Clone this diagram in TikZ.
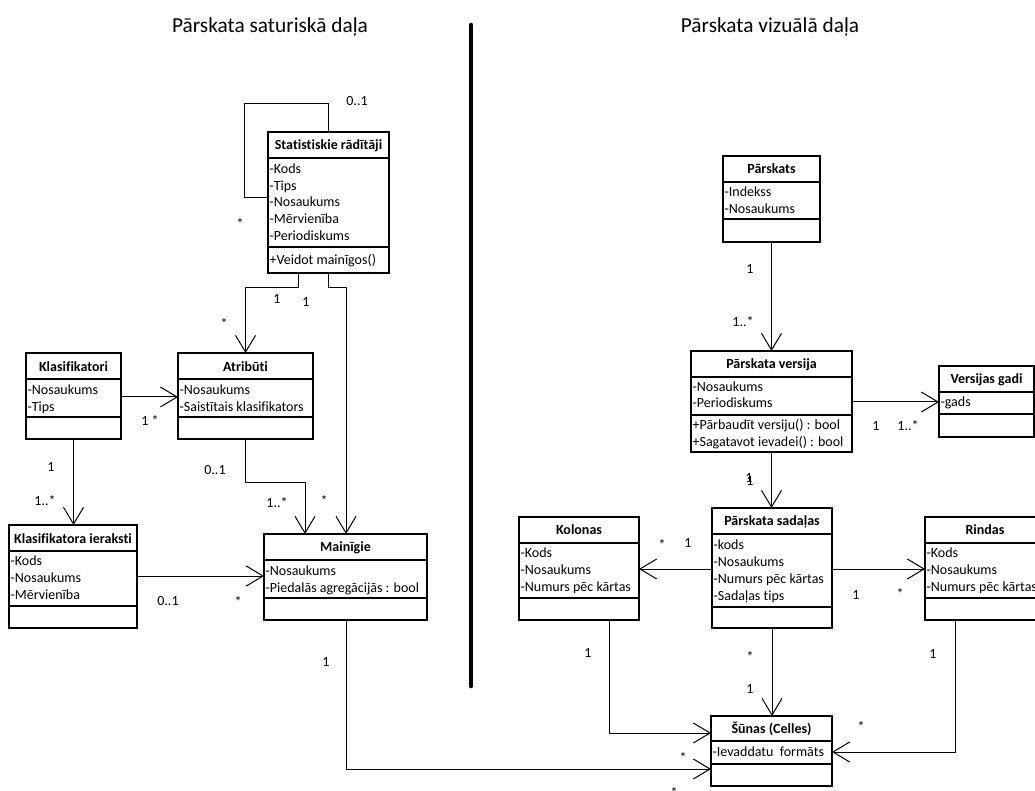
\documentclass[tikz,border=0pt]{standalone}
\usepackage{fontspec}
\setmainfont[Ligatures=CommonOff]{Carlito}
\usetikzlibrary{arrows.meta,calc}

\newcommand\boxfont{\fontsize{10.5pt}{12.5pt}\selectfont}
\newcommand\headfont{\fontsize{16pt}{19pt}\selectfont}

\tikzset{
  frame/.style={draw, line width=0.9pt, inner sep=0pt, outer sep=0pt},
  divider/.style={line width=0.9pt},
  ttl/.style={font=\boxfont\bfseries, inner sep=0pt, text height=8.2pt, text depth=1pt},
  attr/.style={font=\boxfont, anchor=west, inner xsep=1pt, inner ysep=0pt, text height=8.2pt, text depth=1pt},
  mult/.style={font=\boxfont, anchor=base, inner sep=0pt},
  head/.style={font=\headfont, anchor=base, inner sep=0pt},
  link/.style={line width=0.75pt},
  assoc/.style={line width=0.75pt, -{Straight Barb[length=12.5pt,width=15pt,line width=0.75pt]}},
}

% class frame: name, left, top, right, bottom, first divider, second divider, title, title centre
\newcommand\umlframe[9]{%
  \node[frame, anchor=north west,
        minimum width={(#4-#2)*0.75pt}, minimum height={(#5-#3)*0.75pt}] (#1) at (#2,#3) {};
  \draw[divider] (#2,#6) -- (#4,#6) (#2,#7) -- (#4,#7);
  \node[ttl] (#1-title) at ({(#2+#4)/2},#9) {#8};
}

\begin{document}
\begin{tikzpicture}[x=0.75pt, y=-0.75pt]
\useasboundingbox (0,0) rectangle (1035,791);

% section headings and separator
\node[head] (hleft) at (270,33) {Pārskata saturiskā daļa};
\node[head] (hright) at (770,33) {Pārskata vizuālā daļa};
\draw[line width=3.4pt, line cap=round] (471,25) -- (471,686);

% ---------------- content part ----------------
\umlframe{st}{268}{132}{389}{273}{158}{247}{Statistiskie rādītāji}{145}
\node[attr] (st-a1) at (268,169) {-Kods};
\node[attr] (st-a2) at (268,186) {-Tips};
\node[attr] (st-a3) at (268,202) {-Nosaukums};
\node[attr] (st-a4) at (268,219) {-Mērvienība};
\node[attr] (st-a5) at (268,236) {-Periodiskums};
\node[attr] (st-m1) at (268,260) {+Veidot mainīgos()};

\umlframe{atr}{178}{353}{313}{439}{379}{417}{Atribūti}{367}
\node[attr] (atr-a1) at (178,390) {-Nosaukums};
\node[attr] (atr-a2) at (178,407) {-Saistītais klasifikators};

\umlframe{kls}{26}{353}{121}{439}{379}{417}{Klasifikatori}{367}
\node[attr] (kls-a1) at (26,390) {-Nosaukums};
\node[attr] (kls-a2) at (26,407) {-Tips};

\umlframe{kie}{9}{525}{137}{628}{551}{606}{Klasifikatora ieraksti}{539}
\node[attr] (kie-a1) at (9,561) {-Kods};
\node[attr] (kie-a2) at (9,578) {-Nosaukums};
\node[attr] (kie-a3) at (9,595) {-Mērvienība};

\umlframe{mai}{264}{534}{427}{620}{560}{598}{Mainīgie}{547}
\node[attr] (mai-a1) at (264,571) {-Nosaukums};
\node[attr] (mai-a2) at (264,588) {-Piedalās agregācijās : bool};

% ---------------- visual part ----------------
\umlframe{prs}{723}{156}{820}{242}{182}{219}{Pārskats}{169}
\node[attr] (prs-a1) at (723,192) {-Indekss};
\node[attr] (prs-a2) at (723,209) {-Nosaukums};

\umlframe{ver}{691}{351}{852}{452}{377}{415}{Pārskata versija}{364}
\node[attr] (ver-a1) at (691,387) {-Nosaukums};
\node[attr] (ver-a2) at (691,403) {-Periodiskums};
\node[attr] (ver-m1) at (691,425) {+Pārbaudīt versiju() : bool};
\node[attr] (ver-m2) at (691,442) {+Sagatavot ievadei() : bool};

\umlframe{vg}{939}{366}{1034}{437}{392}{414}{Versijas gadi}{379}
\node[attr] (vg-a1) at (939,402) {-gads};

\umlframe{sad}{712}{508}{832}{628}{534}{607}{Pārskata sadaļas}{521}
\node[attr] (sad-a1) at (712,545) {-kods};
\node[attr] (sad-a2) at (712,562) {-Nosaukums};
\node[attr] (sad-a3) at (712,579) {-Numurs pēc kārtas};
\node[attr] (sad-a4) at (712,596) {-Sadaļas tips};

\umlframe{kol}{519}{517}{639}{620}{543}{598}{Kolonas}{530}
\node[attr] (kol-a1) at (519,553) {-Kods};
\node[attr] (kol-a2) at (519,570) {-Nosaukums};
\node[attr] (kol-a3) at (519,587) {-Numurs pēc kārtas};

\umlframe{rin}{925}{517}{1045}{620}{543}{598}{Rindas}{530}
\node[attr] (rin-a1) at (925,553) {-Kods};
\node[attr] (rin-a2) at (925,570) {-Nosaukums};
\node[attr] (rin-a3) at (925,587) {-Numurs pēc kārtas};

\umlframe{sun}{711}{716}{832}{786}{741}{764}{Šūnas (Celles)}{729}
\node[attr] (sun-a1) at (711,752) {-Ievaddatu~ formāts};

% ---------------- associations ----------------
% self association of the indicators
\draw[link] ($(st.north west)+(0,66)$) -- ++(-24,0) |- ($(st.north west)+(60,-28)$)
  -- ($(st.north west)+(60,0)$);
\draw[assoc] ($(st.south west)+(30,0)$) -- ++(0,15) -| (atr.north);
\draw[assoc] ($(st.south west)+(60,0)$) -- ++(0,15) -| ($(mai.north west)+(82,0)$);
\draw[assoc] ($(kls.north east)+(0,44)$) -- ($(atr.north west)+(0,44)$);
\draw[assoc] (kls.south) -- (kls.south |- kie.north);
\draw[assoc] (atr.south) -- ++(0,43) -| ($(mai.north west)+(41,0)$);
\draw[assoc] ($(kie.north east)+(0,51)$) -- ($(mai.north west)+(0,42)$);
\draw[assoc] ($(mai.south west)+(82,0)$) |- ($(sun.north west)+(0,53)$);

\draw[assoc] (prs.south) -- (prs.south |- ver.north);
\draw[assoc] ($(ver.north east)+(0,51)$) -- ($(vg.north west)+(0,36)$);
\draw[assoc] (ver.south) -- (ver.south |- sad.north);
\draw[assoc] ($(sad.north west)+(0,61)$) -- ($(kol.north east)+(0,52)$);
\draw[assoc] ($(sad.north east)+(0,61)$) -- ($(rin.north west)+(0,52)$);
\draw[assoc] (sad.south) -- (sad.south |- sun.north);
\draw[assoc] ($(kol.south west)+(90,0)$) |- ($(sun.north west)+(0,17)$);
\draw[assoc] ($(rin.south west)+(30,0)$) |- ($(sun.north east)+(0,36)$);

% ---------------- multiplicities ----------------
\node[mult] (m1) at (357,106) {0..1};
\node[mult] (m2) at (240,229) {*};
\node[mult] (m3) at (277,304) {1};
\node[mult] (m4) at (224,329) {*};
\node[mult] (m5) at (306,307) {1};
\node[mult] (m6) at (324,505) {*};
\node[mult] (m7) at (150,426) {1 *};
\node[mult] (m8) at (51,471) {1};
\node[mult] (m9) at (45,505) {1..*};
\node[mult] (m10) at (215,474) {0..1};
\node[mult] (m11) at (277,507) {1..*};
\node[mult] (m12) at (168,605) {0..1};
\node[mult] (m13) at (238,606) {*};
\node[mult] (m14) at (326,666) {1};
\node[mult] (m15) at (683,762) {*};
\node[mult] (m16) at (674,797) {*};

\node[mult] (m17) at (750,274) {1};
\node[mult] (m18) at (743,327) {1..*};
\node[mult] (m19) at (876,431) {1};
\node[mult] (m20) at (908,431) {1..*};
\node[mult] (m21) at (749,482) {1};
\node[mult] (m22) at (750,485) {1};
\node[mult] (m23) at (662,549) {*};
\node[mult] (m24) at (688,547) {1};
\node[mult] (m25) at (856,599) {1};
\node[mult] (m26) at (900,598) {*};
\node[mult] (m27) at (750,661) {*};
\node[mult] (m28) at (750,693) {1};
\node[mult] (m29) at (588,657) {1};
\node[mult] (m30) at (933,658) {1};
\node[mult] (m31) at (861,731) {*};
\end{tikzpicture}
\end{document}
